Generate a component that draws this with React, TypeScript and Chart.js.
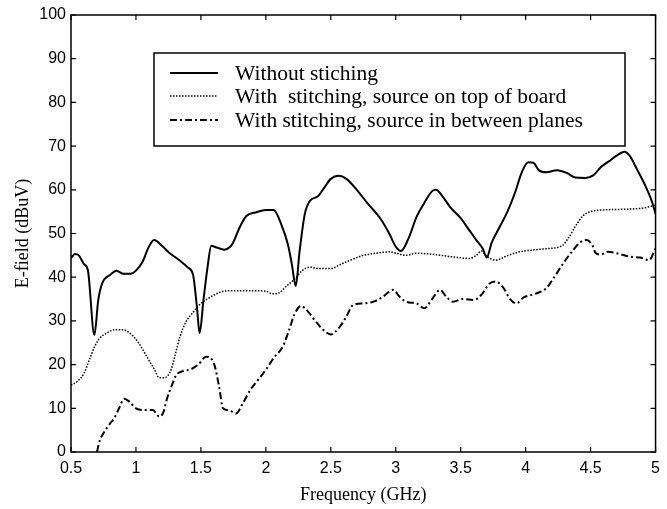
import React, { useEffect, useRef } from "react";
import { Chart, registerables } from "chart.js";

Chart.register(...registerables);

const xTicks = [0.5, 1, 1.5, 2, 2.5, 3, 3.5, 4, 4.5, 5];
const yTicks = [0, 10, 20, 30, 40, 50, 60, 70, 80, 90, 100];

const seriesLabels = [
  "Without stiching",
  "With  stitching, source on top of board",
  "With stitching, source in between planes",
];

const freqA = [0.5, 0.53, 0.56, 0.6, 0.63, 0.68, 0.71, 0.74, 0.8, 0.85, 0.9, 0.96, 1.0, 1.05, 1.1, 1.14, 1.2, 1.26, 1.33, 1.4, 1.44, 1.47, 1.49, 1.52, 1.55, 1.58, 1.62, 1.68, 1.74, 1.8, 1.85, 1.92, 2.0, 2.06, 2.12, 2.17, 2.2, 2.23, 2.26, 2.3, 2.34, 2.4, 2.45, 2.5, 2.56, 2.62, 2.7, 2.78, 2.88, 2.95, 3.0, 3.04, 3.1, 3.16, 3.22, 3.28, 3.31, 3.36, 3.42, 3.5, 3.56, 3.62, 3.67, 3.7, 3.74, 3.8, 3.86, 3.92, 3.97, 4.02, 4.06, 4.1, 4.16, 4.24, 4.32, 4.38, 4.46, 4.52, 4.58, 4.64, 4.7, 4.76, 4.8, 4.86, 4.92, 4.97, 5.0];
const withoutStitching = [44.4, 45.3, 45.0, 43, 41.6, 26.8, 34.8, 38.6, 40.5, 41.5, 40.8, 40.8, 41.5, 43.5, 47, 48.5, 47.2, 45.5, 44, 42.2, 40.5, 33, 27.2, 34.8, 42, 47.2, 46.8, 46.3, 47.5, 51.5, 54, 54.8, 55.4, 55.4, 52, 47.5, 43, 38, 46, 54.5, 57.5, 58.5, 60.5, 62.5, 63.2, 62.5, 60, 57, 53.5, 50, 47, 46, 49, 53.8, 57, 59.7, 60, 58.5, 56, 53.5, 51, 48.5, 46.5, 44.5, 48, 51.5, 55, 59.5, 64, 66.3, 66.2, 64.5, 64, 64.5, 63.8, 62.8, 62.7, 63.3, 65.2, 66.5, 67.8, 68.7, 67.8, 64.5, 61, 57.5, 54.5];

const freqB = [0.5, 0.55, 0.6, 0.64, 0.68, 0.72, 0.78, 0.84, 0.9, 0.96, 1.02, 1.08, 1.14, 1.18, 1.22, 1.27, 1.3, 1.34, 1.38, 1.44, 1.5, 1.56, 1.62, 1.7, 1.8, 1.9, 2.0, 2.05, 2.1, 2.16, 2.22, 2.28, 2.34, 2.4, 2.5, 2.58, 2.66, 2.75, 2.85, 2.95, 3.0, 3.08, 3.16, 3.26, 3.35, 3.45, 3.57, 3.62, 3.66, 3.7, 3.77, 3.85, 3.95, 4.05, 4.15, 4.28, 4.33, 4.38, 4.44, 4.5, 4.6, 4.7, 4.8, 4.9, 5.0];
const stitchingTop = [15.3, 16.2, 18, 21, 24, 26, 27.3, 28, 28, 27, 25, 22, 19, 17, 17, 18.8, 22, 26.5, 29.5, 32, 34, 35.2, 36.2, 36.9, 36.9, 36.9, 36.8, 36.2, 36.4, 38, 39.5, 41.5, 42.3, 42, 42, 43, 44, 45, 45.5, 45.8, 45.5, 45, 45.5, 45.3, 45, 44.6, 44.3, 45, 46, 44.8, 43.9, 44.8, 45.8, 46.2, 46.5, 47.2, 49, 51.5, 54, 55, 55.4, 55.5, 55.6, 55.8, 56.5];

const freqC = [0.7, 0.72, 0.75, 0.8, 0.83, 0.87, 0.91, 0.95, 1.0, 1.05, 1.13, 1.18, 1.21, 1.24, 1.28, 1.31, 1.36, 1.42, 1.48, 1.54, 1.6, 1.64, 1.67, 1.72, 1.77, 1.82, 1.88, 1.94, 2.0, 2.06, 2.13, 2.18, 2.22, 2.27, 2.32, 2.38, 2.44, 2.5, 2.57, 2.62, 2.67, 2.75, 2.83, 2.9, 2.98, 3.03, 3.08, 3.16, 3.22, 3.28, 3.34, 3.39, 3.44, 3.52, 3.6, 3.66, 3.72, 3.77, 3.83, 3.88, 3.93, 3.98, 4.04, 4.1, 4.16, 4.22, 4.29, 4.36, 4.42, 4.47, 4.51, 4.54, 4.58, 4.63, 4.7, 4.8, 4.88, 4.95, 5.0];
const stitchingBetween = [0, 2.5, 4.3, 6.5, 7.6, 10, 12.2, 11.5, 10, 9.6, 9.6, 8.1, 9, 12.3, 15.5, 17.6, 18.5, 18.9, 20, 21.8, 20.3, 15, 10, 9.5, 8.8, 11, 14.2, 16.5, 18.8, 21.5, 24.1, 28, 31.5, 33.4, 32.3, 30, 28, 26.9, 28.7, 31, 33.6, 34, 34.4, 35.5, 37.1, 35.5, 34.4, 34, 32.9, 35, 37.1, 35.5, 34.4, 35, 34.8, 36, 38.5, 39, 37.5, 35, 34, 35.3, 35.9, 36.5, 37.5, 40, 43.2, 46, 48, 48.5, 47.5, 45.5, 45.2, 45.8, 45.5, 44.7, 44.5, 43.9, 46.6];

const toPoints = (xs: number[], ys: number[]) => xs.map((x, i) => ({ x, y: ys[i] }));

const dashes: number[][] = [[], [1.5, 1.5], [7, 3, 2, 3]];
const widths = [2, 1.5, 2];

const framePlugin = {
  id: "framePlugin",
  afterDraw(chart: any) {
    const { ctx, chartArea: a, scales } = chart;
    ctx.save();
    ctx.strokeStyle = "#000";
    ctx.lineWidth = 1.5;
    ctx.setLineDash([]);
    ctx.strokeRect(a.left, a.top, a.right - a.left, a.bottom - a.top);
    const tl = 5;
    ctx.lineWidth = 1.2;
    ctx.beginPath();
    for (const v of xTicks) {
      const px = scales.x.getPixelForValue(v);
      ctx.moveTo(px, a.bottom);
      ctx.lineTo(px, a.bottom - tl);
      ctx.moveTo(px, a.top);
      ctx.lineTo(px, a.top + tl);
    }
    for (const v of yTicks) {
      const py = scales.y.getPixelForValue(v);
      ctx.moveTo(a.left, py);
      ctx.lineTo(a.left + tl, py);
      ctx.moveTo(a.right, py);
      ctx.lineTo(a.right - tl, py);
    }
    ctx.stroke();

    // legend box
    const bx = 154, by = 53, bw = 471, bh = 93;
    ctx.fillStyle = "#fff";
    ctx.fillRect(bx, by, bw, bh);
    ctx.lineWidth = 1.5;
    ctx.strokeRect(bx, by, bw, bh);
    const rows = [73, 96, 120];
    ctx.font = "21.5px 'Liberation Serif', 'Times New Roman', serif";
    ctx.textBaseline = "middle";
    ctx.textAlign = "left";
    chart.data.datasets.forEach((ds: any, i: number) => {
      ctx.beginPath();
      ctx.setLineDash(ds.borderDash || []);
      ctx.lineWidth = ds.borderWidth;
      ctx.moveTo(170, rows[i]);
      ctx.lineTo(218, rows[i]);
      ctx.stroke();
      ctx.setLineDash([]);
      ctx.fillStyle = "#000";
      ctx.fillText(ds.label, 235, rows[i] + 1);
    });
    ctx.restore();
  },
};

export default function App() {
  const ref = useRef<HTMLCanvasElement | null>(null);
  useEffect(() => {
    if (!ref.current) return;
    const datasets = [
      toPoints(freqA, withoutStitching),
      toPoints(freqB, stitchingTop),
      toPoints(freqC, stitchingBetween),
    ].map((data, i) => ({
      label: seriesLabels[i],
      data,
      borderColor: "#000",
      backgroundColor: "#000",
      borderWidth: widths[i],
      borderDash: dashes[i],
      pointRadius: 0,
      fill: false,
      cubicInterpolationMode: "monotone" as const,
    }));
    const chart = new Chart(ref.current, {
      type: "line",
      data: { datasets },
      plugins: [framePlugin],
      options: {
        animation: false,
        responsive: false,
        layout: { padding: { left: 0, right: 11, top: 15, bottom: 0 } },
        plugins: { legend: { display: false }, tooltip: { enabled: false } },
        scales: {
          x: {
            type: "linear",
            min: 0.5,
            max: 5,
            afterBuildTicks: (s: any) => {
              s.ticks = xTicks.map((v) => ({ value: v }));
            },
            afterFit: (s: any) => {
              s.height = 57;
            },
            ticks: {
              color: "#000",
              padding: 7,
              maxRotation: 0,
              autoSkip: false,
              font: { family: "'Liberation Sans', Arial, sans-serif", size: 16 },
              callback: (v: any) => String(v),
            },
            grid: { display: false, drawTicks: false },
            border: { display: false },
            title: {
              display: true,
              text: "Frequency (GHz)",
              color: "#000",
              font: { family: "'Liberation Serif', 'Times New Roman', serif", size: 18 },
              padding: { top: 0, bottom: 3 },
            },
          },
          y: {
            type: "linear",
            min: 0,
            max: 100,
            afterBuildTicks: (s: any) => {
              s.ticks = yTicks.map((v) => ({ value: v }));
            },
            afterFit: (s: any) => {
              s.width = 71;
            },
            ticks: {
              color: "#000",
              padding: 5,
              autoSkip: false,
              font: { family: "'Liberation Sans', Arial, sans-serif", size: 16 },
              callback: (v: any) => String(v),
            },
            grid: { display: false, drawTicks: false },
            border: { display: false },
            title: {
              display: true,
              text: "E-field (dBuV)",
              color: "#000",
              font: { family: "'Liberation Serif', 'Times New Roman', serif", size: 18 },
              padding: { top: 12, bottom: 0 },
            },
          },
        },
      },
    });
    return () => chart.destroy();
  }, []);
  return (
    <div style={{ position: "absolute", left: 0, top: 0, width: 667, height: 509, background: "#fff" }}>
      <canvas ref={ref} width={667} height={509} style={{ display: "block" }} />
    </div>
  );
}
